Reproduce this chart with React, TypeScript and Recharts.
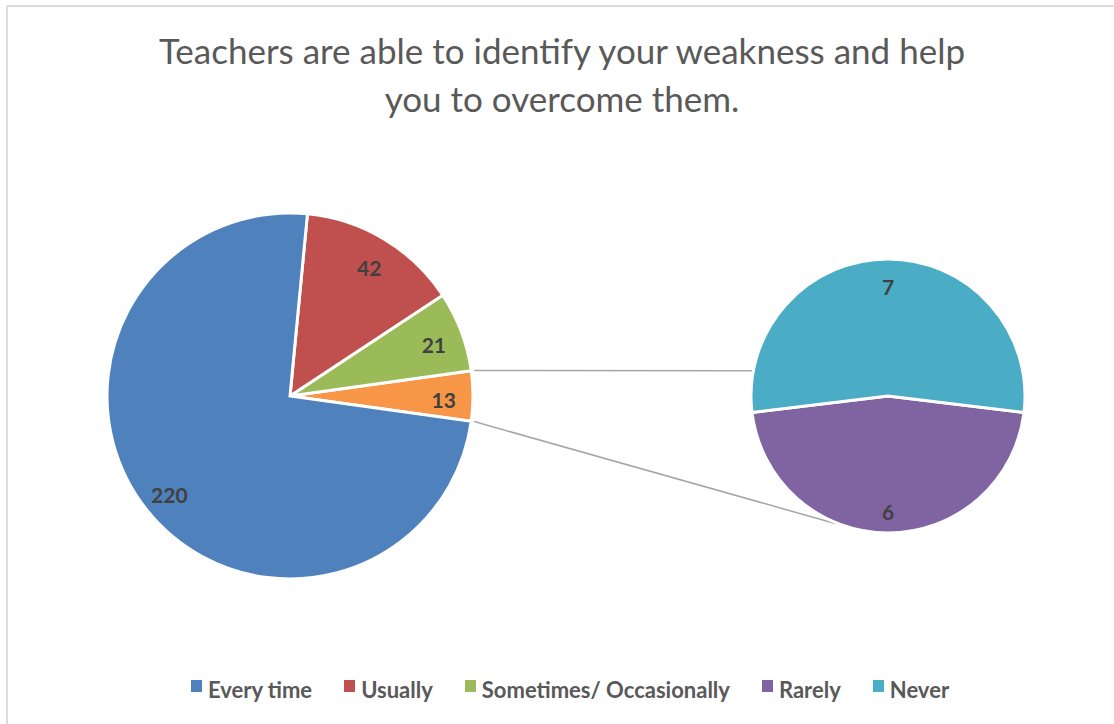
import { PieChart, Pie, Cell, Legend } from 'recharts';

const title = ['Teachers are able to identify your weakness and help', 'you to overcome them.'];

// first pie
const mainNames = ['Every time', 'Usually', 'Sometimes/ Occasionally'];
const mainValues = [220, 42, 21];
const mainColors = ['#4f81bd', '#c0504d', '#9bbb59'];
const otherColor = '#f79646';

// second pie, split of the small slice
const subNames = ['Rarely', 'Never'];
const subValues = [6, 7];
const subColors = ['#8064a2', '#4bacc6'];

const W = 1114;
const H = 724;
const MAIN = { cx: 290, cy: 396, r: 183 };
const SUB = { cx: 888, cy: 396, r: 137 };
// where the connector lines meet the second pie (degrees)
const SUB_TOP_DEG = 169.5;
const SUB_BOTTOM_DEG = 247.5;

const RADIAN = Math.PI / 180;
const otherValue = subValues.reduce((a, b) => a + b, 0);
const total = mainValues.reduce((a, b) => a + b, 0) + otherValue;
const otherAngle = (otherValue / total) * 360;
const rarelyAngle = (subValues[0] / otherValue) * 360;

// drawn counter-clockwise from 3 o'clock: the small slice sits centred on the right
const mainData = [
  { name: 'Other', value: otherValue, fill: otherColor },
  { name: mainNames[2], value: mainValues[2], fill: mainColors[2] },
  { name: mainNames[1], value: mainValues[1], fill: mainColors[1] },
  { name: mainNames[0], value: mainValues[0], fill: mainColors[0] },
];
const subData = subNames.map((n, i) => ({ name: n, value: subValues[i], fill: subColors[i] }));

const legendItems = [
  ...mainNames.map((n, i) => ({ name: n, color: mainColors[i] })),
  ...subNames.map((n, i) => ({ name: n, color: subColors[i] })),
];

const font = 'Lato, "Open Sans", sans-serif';

function makeLabel(factor: number) {
  return (p: any) => {
    const r = p.outerRadius * factor;
    const x = p.cx + r * Math.cos(-p.midAngle * RADIAN);
    const y = p.cy + r * Math.sin(-p.midAngle * RADIAN);
    return (
      <text
        x={x}
        y={y + 3}
        textAnchor="middle"
        dominantBaseline="central"
        fill="#404040"
        fontFamily={font}
        fontWeight={700}
        fontSize={21}
      >
        {p.value}
      </text>
    );
  };
}

function onCircle(c: { cx: number; cy: number; r: number }, deg: number, extra = 0) {
  return {
    x: c.cx + (c.r + extra) * Math.cos(deg * RADIAN),
    y: c.cy - (c.r + extra) * Math.sin(deg * RADIAN),
  };
}

function LegendRow() {
  return (
    <div
      style={{
        display: 'flex',
        justifyContent: 'center',
        gap: 32,
        fontFamily: font,
        fontWeight: 700,
        fontSize: 22,
        color: '#595959',
        paddingLeft: 26,
      }}
    >
      {legendItems.map((it) => (
        <div key={it.name} style={{ display: 'flex', alignItems: 'flex-start' }}>
          <span
            style={{ width: 11, height: 12, background: it.color, marginRight: 6, marginTop: 4 }}
          />
          <span style={{ lineHeight: '28px' }}>{it.name}</span>
        </div>
      ))}
    </div>
  );
}

export default function App() {
  const a1 = onCircle(MAIN, otherAngle / 2, 3);
  const a2 = onCircle(SUB, SUB_TOP_DEG, 1);
  const b1 = onCircle(MAIN, -otherAngle / 2, 3);
  const b2 = onCircle(SUB, SUB_BOTTOM_DEG, 1);

  return (
    <div style={{ position: 'absolute', left: 0, top: 0, width: W, height: H, background: '#fff' }}>
      <div
        style={{
          position: 'absolute',
          left: 6,
          top: 5,
          right: 0,
          bottom: 0,
          borderTop: '2px solid #dcdcdc',
          borderLeft: '2px solid #dcdcdc',
        }}
      />
      <div
        style={{
          position: 'absolute',
          left: 6,
          top: 26,
          width: W - 6,
          textAlign: 'center',
          fontFamily: font,
          fontWeight: 400,
          fontSize: 35,
          lineHeight: '48px',
          color: '#595959',
        }}
      >
        <div style={{ paddingLeft: 4 }}>{title[0]}</div>
        <div style={{ paddingLeft: 4 }}>{title[1]}</div>
      </div>
      <svg width={W} height={H} style={{ position: 'absolute', left: 0, top: 0 }}>
        <line x1={a1.x} y1={a1.y} x2={a2.x} y2={a2.y} stroke="#a6a6a6" strokeWidth={1.5} />
        <line x1={b1.x} y1={b1.y} x2={b2.x} y2={b2.y} stroke="#a6a6a6" strokeWidth={1.5} />
      </svg>
      <div style={{ position: 'absolute', left: 0, top: 0 }}>
        <PieChart width={W} height={H} margin={{ top: 0, right: 0, bottom: 0, left: 0 }}>
          <Pie
            data={mainData}
            dataKey="value"
            nameKey="name"
            cx={MAIN.cx}
            cy={MAIN.cy}
            outerRadius={MAIN.r}
            startAngle={-otherAngle / 2}
            endAngle={360 - otherAngle / 2}
            stroke="#ffffff"
            strokeWidth={3}
            label={makeLabel(0.84)}
            labelLine={false}
            isAnimationActive={false}
          >
            {mainData.map((d) => (
              <Cell key={d.name} fill={d.fill} />
            ))}
          </Pie>
          <Pie
            data={subData}
            dataKey="value"
            nameKey="name"
            cx={SUB.cx}
            cy={SUB.cy}
            outerRadius={SUB.r}
            startAngle={270 - rarelyAngle / 2}
            endAngle={630 - rarelyAngle / 2}
            stroke="#ffffff"
            strokeWidth={3}
            label={makeLabel(0.82)}
            labelLine={false}
            isAnimationActive={false}
          >
            {subData.map((d) => (
              <Cell key={d.name} fill={d.fill} />
            ))}
          </Pie>
          <Legend
            content={() => <LegendRow />}
            wrapperStyle={{ position: 'absolute', left: 0, top: 676, width: W }}
          />
        </PieChart>
      </div>
    </div>
  );
}
